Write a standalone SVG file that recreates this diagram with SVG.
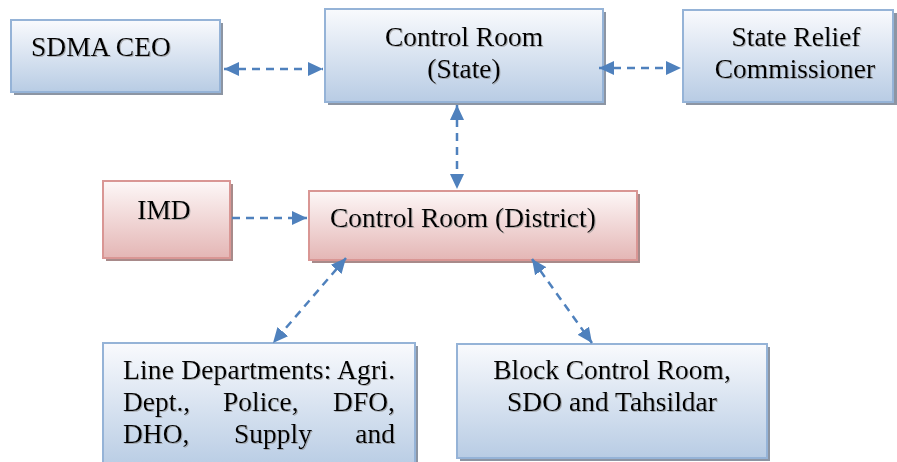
<svg xmlns="http://www.w3.org/2000/svg" width="897" height="462" viewBox="0 0 897 462">
<defs>
<linearGradient id="gb" x1="0" y1="0" x2="0" y2="1">
<stop offset="0" stop-color="#f9fafd"/>
<stop offset="1" stop-color="#b8cce4"/>
</linearGradient>
<linearGradient id="gp" x1="0" y1="0" x2="0" y2="1">
<stop offset="0" stop-color="#fdf7f7"/>
<stop offset="1" stop-color="#e4b6b5"/>
</linearGradient>
<marker id="ah" markerWidth="16" markerHeight="14" refX="15" refY="7" orient="auto-start-reverse" markerUnits="userSpaceOnUse">
<path d="M0,0 L15,7 L0,14 Z" fill="#4f81bd"/>
</marker>
<filter id="ts" x="-5%" y="-20%" width="110%" height="140%">
<feDropShadow dx="1" dy="1" stdDeviation="0.6" flood-color="#8a8a8a" flood-opacity="0.6"/>
</filter>
</defs>
<style>
.bb{fill:url(#gb);stroke:#95b3d7;stroke-width:2}
.pb{fill:url(#gp);stroke:#d99694;stroke-width:2}
.sh{fill:#8c95a3}
.shp{fill:#a88a8a}
.t{font-family:"Liberation Serif","Times New Roman",serif;font-size:27.5px;fill:#000;filter:url(#ts)}
.c{stroke:#4f81bd;stroke-width:2.5;stroke-dasharray:8,6;fill:none}
</style>
<rect width="897" height="462" fill="#fff"/>
<g id="sdma">
<rect class="sh" x="14" y="23" width="209" height="72"/>
<rect class="bb" x="11" y="20" width="209" height="72"/>
<text class="t" x="31" y="56">SDMA CEO</text>
</g>
<g id="state">
<rect class="sh" x="328" y="12" width="278" height="93"/>
<rect class="bb" x="325" y="9" width="278" height="93"/>
<text class="t" x="464" y="46" text-anchor="middle">Control Room</text>
<text class="t" x="464" y="78" text-anchor="middle">(State)</text>
</g>
<g id="src">
<rect class="sh" x="686" y="13" width="211" height="92"/>
<rect class="bb" x="683" y="10" width="210" height="92"/>
<text class="t" x="796" y="46" text-anchor="middle">State Relief</text>
<text class="t" x="795" y="78" text-anchor="middle">Commissioner</text>
</g>
<g id="imd">
<rect class="shp" x="106" y="184" width="127" height="77"/>
<rect class="pb" x="103" y="181" width="127" height="77"/>
<text class="t" x="164" y="219" text-anchor="middle">IMD</text>
</g>
<g id="district">
<rect class="shp" x="312" y="194" width="328" height="69"/>
<rect class="pb" x="309" y="191" width="328" height="69"/>
<text class="t" x="330" y="227">Control Room (District)</text>
</g>
<g id="line">
<rect class="sh" x="106" y="346" width="312" height="125"/>
<rect class="bb" x="103" y="343" width="312" height="125"/>
<text class="t" x="123" y="379" textLength="272" lengthAdjust="spacing">Line Departments: Agri.</text>
<text class="t" x="123" y="411">Dept.,</text>
<text class="t" x="223" y="411">Police,</text>
<text class="t" x="395" y="411" text-anchor="end">DFO,</text>
<text class="t" x="123" y="443">DHO,</text>
<text class="t" x="234" y="443">Supply</text>
<text class="t" x="395" y="443" text-anchor="end">and</text>
</g>
<g id="block">
<rect class="sh" x="460" y="347" width="310" height="114"/>
<rect class="bb" x="457" y="344" width="310" height="114"/>
<text class="t" x="612" y="379" text-anchor="middle">Block Control Room,</text>
<text class="t" x="612" y="411" text-anchor="middle">SDO and Tahsildar</text>
</g>
<g id="connectors">
<line class="c" x1="224" y1="69" x2="323" y2="69" marker-start="url(#ah)" marker-end="url(#ah)"/>
<line class="c" x1="599" y1="68" x2="681" y2="68" marker-start="url(#ah)" marker-end="url(#ah)"/>
<line class="c" x1="457" y1="105" x2="457" y2="189" marker-start="url(#ah)" marker-end="url(#ah)"/>
<line class="c" x1="232" y1="218" x2="307" y2="218" marker-end="url(#ah)"/>
<line class="c" x1="346" y1="258" x2="273" y2="343" marker-start="url(#ah)" marker-end="url(#ah)"/>
<line class="c" x1="532" y1="259" x2="592" y2="343" marker-start="url(#ah)" marker-end="url(#ah)"/>
</g>
</svg>
